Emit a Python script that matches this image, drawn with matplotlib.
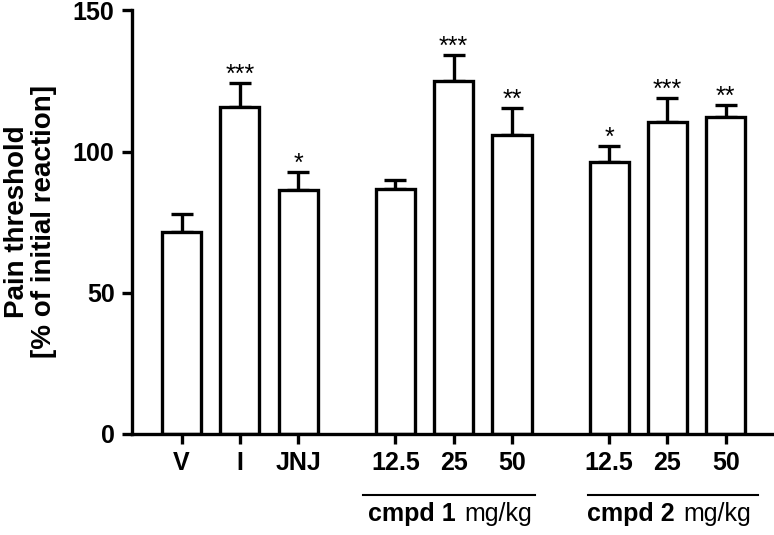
import matplotlib
matplotlib.use('Agg')
import matplotlib.pyplot as plt
import numpy as np

# --- data ---
labels = ['V', 'I', 'JNJ', '12.5', '25', '50', '12.5', '25', '50']
means = [71.6, 115.8, 86.3, 86.6, 124.9, 105.8, 96.4, 110.5, 112.3]
sem = [6.3, 8.3, 6.3, 3.5, 9.2, 9.7, 5.5, 8.3, 4.1]
stars = ['', '***', '*', '', '***', '**', '*', '***', '**']
groups = ['cmpd 1', 'cmpd 2']

# bar positions (gaps between groups)
pos = np.array([0, 1, 2, 3.667, 4.667, 5.667, 7.333, 8.333, 9.333])

narrow = ['Liberation Sans Narrow', 'Liberation Sans', 'DejaVu Sans']
arial = ['Liberation Sans', 'DejaVu Sans']
lw = 2.4

fig = plt.figure(figsize=(7.74, 5.35), dpi=100)
ax = fig.add_axes([0.1705, 0.1888, 0.8295, 0.7919])

ax.bar(pos, means, width=0.67, color='white', edgecolor='black', linewidth=lw, zorder=2)
ax.errorbar(pos, means, yerr=[np.zeros(len(sem)), sem], fmt='none', ecolor='black',
            elinewidth=lw, capsize=8, capthick=lw, zorder=1)

for x, m, e, s in zip(pos, means, sem, stars):
  if s:
    ax.annotate(s, (x, m + e), xytext=(0, 1), textcoords='offset points',
                ha='center', va='baseline', fontsize=18, family=arial)

ax.set_xlim(-0.85, 10.16)
ax.set_ylim(0, 150)
ax.set_yticks([0, 50, 100, 150])
ax.set_xticks(pos)
ax.set_xticklabels(labels)

for sp in ['top', 'right']:
  ax.spines[sp].set_visible(False)
for sp in ['left', 'bottom']:
  ax.spines[sp].set_linewidth(lw)
ax.tick_params(width=lw, length=7.5, labelsize=18, pad=5)
for t in ax.get_xticklabels() + ax.get_yticklabels():
  t.set_family(narrow)
  t.set_fontweight('bold')

fig.text(31/774, 1 - 222/535, 'Pain threshold\n[% of initial reaction]', rotation=90,
         ha='center', va='center', multialignment='center', fontsize=20,
         fontweight='bold', family=arial, linespacing=1.05)

# group lines and labels under the axis
trans = ax.get_xaxis_transform()
line_ends = [(3.11, 6.06), (6.97, 9.885)]
split = [4.77, 8.53]
for (a, b), sx, g in zip(line_ends, split, groups):
  ax.plot([a, b], [-0.144, -0.144], color='black', lw=1.5, transform=trans, clip_on=False)
  ax.annotate(g, (sx, -0.205), xycoords=trans, xytext=(-3, 0), textcoords='offset points',
              ha='right', va='baseline', fontsize=18, fontweight='bold', family=arial,
              annotation_clip=False)
  ax.annotate('mg/kg', (sx, -0.205), xycoords=trans, xytext=(3, 0), textcoords='offset points',
              ha='left', va='baseline', fontsize=18, family=arial, annotation_clip=False)

fig.savefig('out.png', dpi=100)
